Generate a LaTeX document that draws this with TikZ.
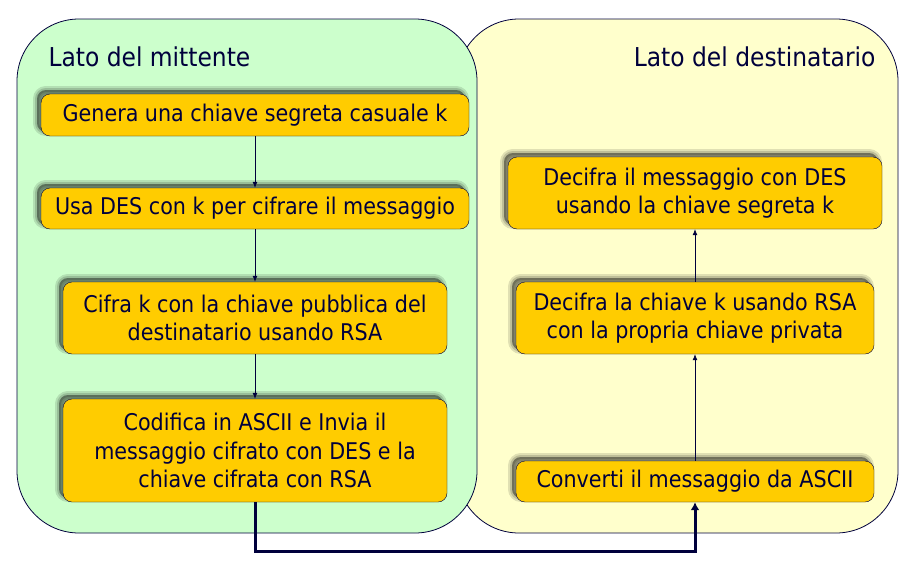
\documentclass[tikz,border=0pt]{standalone}
\usepackage{fontspec}
\setmainfont{DejaVu Sans Condensed}
\usetikzlibrary{shadows,arrows.meta}
\definecolor{blunotte}{RGB}{0,0,60}
\definecolor{oro}{RGB}{255,204,0}
\definecolor{verdino}{RGB}{204,255,204}
\definecolor{giallino}{RGB}{255,255,204}
\begin{document}
\begin{tikzpicture}[x=1pt,y=-1pt,text=blunotte,
    pannello/.style={draw=blunotte,line width=0.8pt,rounded corners=62pt},
    ombra/.style={drop shadow={shadow xshift=-4pt,shadow yshift=4pt,opacity=0.12,fill=black,draw=black,line width=8pt},
      drop shadow={shadow xshift=-4pt,shadow yshift=4pt,opacity=0.15,fill=black,draw=black,line width=4pt},
      drop shadow={shadow xshift=-4pt,shadow yshift=4pt,opacity=0.2,fill=black}},
    passo/.style={draw=blunotte,fill=oro,rounded corners=9pt,align=center,inner sep=0pt,
      font=\fontsize{23}{28.5}\selectfont,ombra},
    freccia/.style={draw=blunotte,line width=0.7pt,-{Latex[length=6pt,width=5pt]}}]
  \useasboundingbox (0,0) rectangle (913,562);
  \node[pannello,fill=giallino,minimum width=441,minimum height=514] (dest) at (677.5,276) {};
  \node[pannello,fill=verdino,minimum width=460,minimum height=514] (mitt) at (247,276) {};
  \node[right,font=\fontsize{26}{30}\selectfont] (tmitt) at (45,57) {Lato del mittente};
  \node[left,font=\fontsize{26}{30}\selectfont] (tdest) at (879,57) {Lato del destinatario};
  \node[passo,minimum width=428,minimum height=42] (genera) at (255,115) {Genera una chiave segreta casuale k};
  \node[passo,minimum width=428,minimum height=41] (usa) at (255,208.5) {Usa DES con k per cifrare il messaggio};
  \node[passo,minimum width=384,minimum height=72] (cifra) at (255,318) {Cifra k con la chiave pubblica del\\destinatario usando RSA};
  \node[passo,minimum width=384,minimum height=103] (codifica) at (255,450.5) {Codifica in ASCII e Invia il\\messaggio cifrato con DES e la\\chiave cifrata con RSA};
  \node[passo,minimum width=374,minimum height=72] (decmsg) at (695,193) {Decifra il messaggio con DES\\usando la chiave segreta k};
  \node[passo,minimum width=358,minimum height=72] (decchiave) at (695,318) {Decifra la chiave k usando RSA\\con la propria chiave privata};
  \node[passo,minimum width=358,minimum height=41] (converti) at (695,481.5) {Converti il messaggio da ASCII};
  \draw[freccia] (genera) -- (usa);
  \draw[freccia] (usa) -- (cifra);
  \draw[freccia] (cifra) -- (codifica);
  \draw[freccia] (converti) -- (decchiave);
  \draw[freccia] (decchiave) -- (decmsg);
  \draw[freccia,line width=3pt,-{Latex[length=8pt,width=9pt]}] (codifica.south) -- ++(0,49) -| (converti.south);
\end{tikzpicture}
\end{document}
